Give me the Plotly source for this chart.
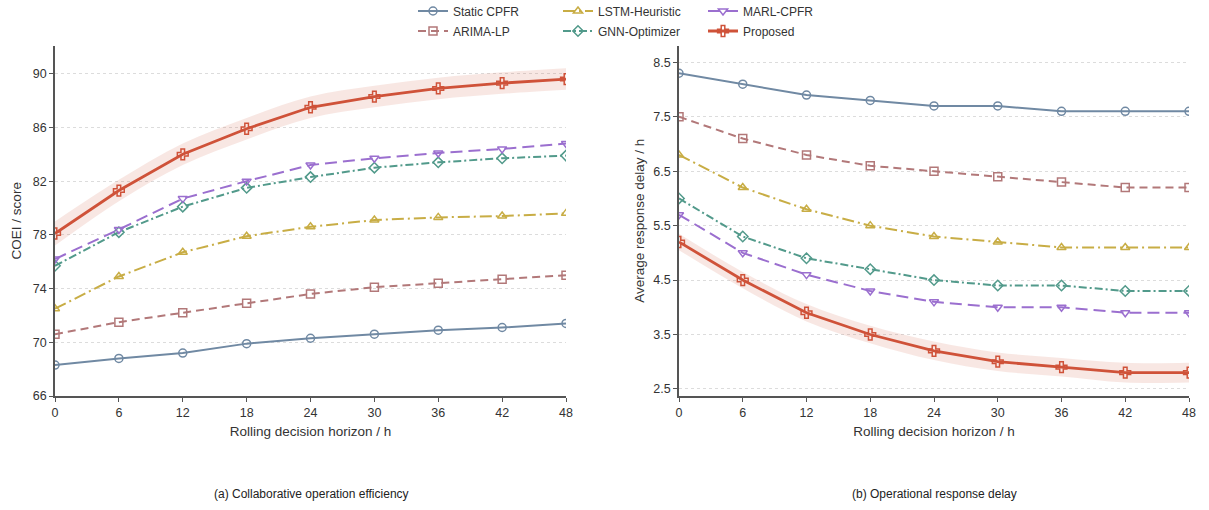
import plotly.graph_objects as go

horizon = [0, 6, 12, 18, 24, 30, 36, 42, 48]

# (a) Collaborative operation efficiency (COEI / score)
coei_static = [68.3, 68.8, 69.2, 69.9, 70.3, 70.6, 70.9, 71.1, 71.4]
coei_arima = [70.6, 71.5, 72.2, 72.9, 73.6, 74.1, 74.4, 74.7, 75.0]
coei_lstm = [72.5, 74.9, 76.7, 77.9, 78.6, 79.1, 79.3, 79.4, 79.6]
coei_gnn = [75.7, 78.2, 80.1, 81.5, 82.3, 83.0, 83.4, 83.7, 83.9]
coei_marl = [76.2, 78.4, 80.7, 82.0, 83.2, 83.7, 84.1, 84.4, 84.8]
coei_prop = [78.1, 81.3, 84.0, 85.9, 87.5, 88.3, 88.9, 89.3, 89.6]
coei_band = [0.9, 0.8, 0.8, 0.8, 0.8, 0.8, 0.8, 0.8, 0.8]

# (b) Operational response delay (h)
delay_static = [8.3, 8.1, 7.9, 7.8, 7.7, 7.7, 7.6, 7.6, 7.6]
delay_arima = [7.5, 7.1, 6.8, 6.6, 6.5, 6.4, 6.3, 6.2, 6.2]
delay_lstm = [6.8, 6.2, 5.8, 5.5, 5.3, 5.2, 5.1, 5.1, 5.1]
delay_gnn = [6.0, 5.3, 4.9, 4.7, 4.5, 4.4, 4.4, 4.3, 4.3]
delay_marl = [5.7, 5.0, 4.6, 4.3, 4.1, 4.0, 4.0, 3.9, 3.9]
delay_prop = [5.2, 4.5, 3.9, 3.5, 3.2, 3.0, 2.9, 2.8, 2.8]
delay_band = [0.15, 0.15, 0.16, 0.16, 0.17, 0.17, 0.17, 0.18, 0.18]

methods = ["Static CPFR", "ARIMA-LP", "LSTM-Heuristic", "GNN-Optimizer", "MARL-CPFR", "Proposed"]
colors = ["#7089a3", "#b27879", "#c8ad45", "#529a8b", "#9b6fcf", "#cf5239"]
symbols = ["circle-open", "square-open", "triangle-up-open", "diamond-open", "triangle-down-open", "cross-open"]
dashes = ["solid", "8px,5px", "12px,4px,2px,4px", "8px,3px,2px,3px", "12px,6px", "solid"]
widths = [2, 2, 2, 2, 2, 2.8]
legend_of = ["legend", "legend2", "legend", "legend2", "legend", "legend2"]

coei_series = [coei_static, coei_arima, coei_lstm, coei_gnn, coei_marl, coei_prop]
delay_series = [delay_static, delay_arima, delay_lstm, delay_gnn, delay_marl, delay_prop]

fig = go.Figure()

band_fill = "rgba(207,82,57,0.14)"
for series, band, xa, ya in [(coei_prop, coei_band, "x", "y"), (delay_prop, delay_band, "x2", "y2")]:
    upper = [v + b for v, b in zip(series, band)]
    lower = [v - b for v, b in zip(series, band)]
    fig.add_trace(go.Scatter(x=horizon, y=upper, mode="lines", line=dict(width=0, shape="spline"),
                             showlegend=False, hoverinfo="skip", xaxis=xa, yaxis=ya))
    fig.add_trace(go.Scatter(x=horizon, y=lower, mode="lines", line=dict(width=0, shape="spline"),
                             fill="tonexty", fillcolor=band_fill, showlegend=False, hoverinfo="skip",
                             xaxis=xa, yaxis=ya))

for panel, (data, xa, ya) in enumerate([(coei_series, "x", "y"), (delay_series, "x2", "y2")]):
    for i, name in enumerate(methods):
        fig.add_trace(go.Scatter(
            x=horizon, y=data[i], name=name, mode="lines+markers",
            line=dict(color=colors[i], width=widths[i], dash=dashes[i]),
            marker=dict(symbol=symbols[i], size=8 if i != 5 else 9, color=colors[i],
                        line=dict(color=colors[i], width=1.5)),
            legend=legend_of[i], showlegend=(panel == 0), xaxis=xa, yaxis=ya,
        ))

font_family = "Liberation Sans, Arial, sans-serif"
axis_common = dict(showline=True, linecolor="#555555", linewidth=1.5, ticks="outside", ticklen=4,
                   tickcolor="#555555", tickwidth=1.2, tickfont=dict(size=12.5, color="#333333"),
                   zeroline=False, mirror=False, automargin=False)

W, H = 1209, 510
ML, MR, MT, MB = 55, 20, 45, 114
PW = W - ML - MR
PH = H - MT - MB


def px_x(px):
    return (px - ML) / PW


def px_y(py):
    return (H - MB - py) / PH


legend_common = dict(orientation="h", xref="container", yref="container", xanchor="left",
                     yanchor="middle", entrywidth=100, font=dict(size=12, color="#333333"),
                     bgcolor="rgba(0,0,0,0)", itemwidth=30, traceorder="normal")

fig.update_layout(
    width=W, height=H,
    margin=dict(l=ML, r=MR, t=MT, b=MB),
    plot_bgcolor="white", paper_bgcolor="white",
    font=dict(family=font_family, size=12, color="#333333"),
    xaxis=dict(domain=[0, px_x(566)], range=[0, 48], tickvals=horizon, showgrid=False,
               title=dict(text="Rolling decision horizon / h", font=dict(size=13.5), standoff=8),
               anchor="y", **axis_common),
    yaxis=dict(domain=[0, 1], range=[66, 92.1], tickvals=[66, 70, 74, 78, 82, 86, 90],
               showgrid=True, gridcolor="#dcdcdc", griddash="dot", gridwidth=1,
               title=dict(text="COEI / score", font=dict(size=13.5), standoff=8),
               anchor="x", **axis_common),
    xaxis2=dict(domain=[px_x(679), 1], range=[0, 48], tickvals=horizon, showgrid=False,
                title=dict(text="Rolling decision horizon / h", font=dict(size=13.5), standoff=8),
                anchor="y2", **axis_common),
    yaxis2=dict(domain=[0, 1], range=[2.37, 8.81], tickvals=[2.5, 3.5, 4.5, 5.5, 6.5, 7.5, 8.5],
                ticktext=["2.5", "3.5", "4.5", "5.5", "6.5", "7.5", "8.5"],
                showgrid=True, gridcolor="#dcdcdc", griddash="dot", gridwidth=1,
                title=dict(text="Average response delay / h", font=dict(size=13.5), standoff=6),
                anchor="x2", **axis_common),
    legend=dict(x=413 / W, y=1 - 11 / H, **legend_common),
    legend2=dict(x=413 / W, y=1 - 31 / H, **legend_common),
    showlegend=True,
    annotations=[
        dict(text="(a) Collaborative operation efficiency", x=px_x(311), y=px_y(494),
             xref="paper", yref="paper", xanchor="center", yanchor="middle",
             showarrow=False, font=dict(size=12, color="#222222")),
        dict(text="(b) Operational response delay", x=px_x(934), y=px_y(494),
             xref="paper", yref="paper", xanchor="center", yanchor="middle",
             showarrow=False, font=dict(size=12, color="#222222")),
    ],
)

fig.write_html("out.html")
